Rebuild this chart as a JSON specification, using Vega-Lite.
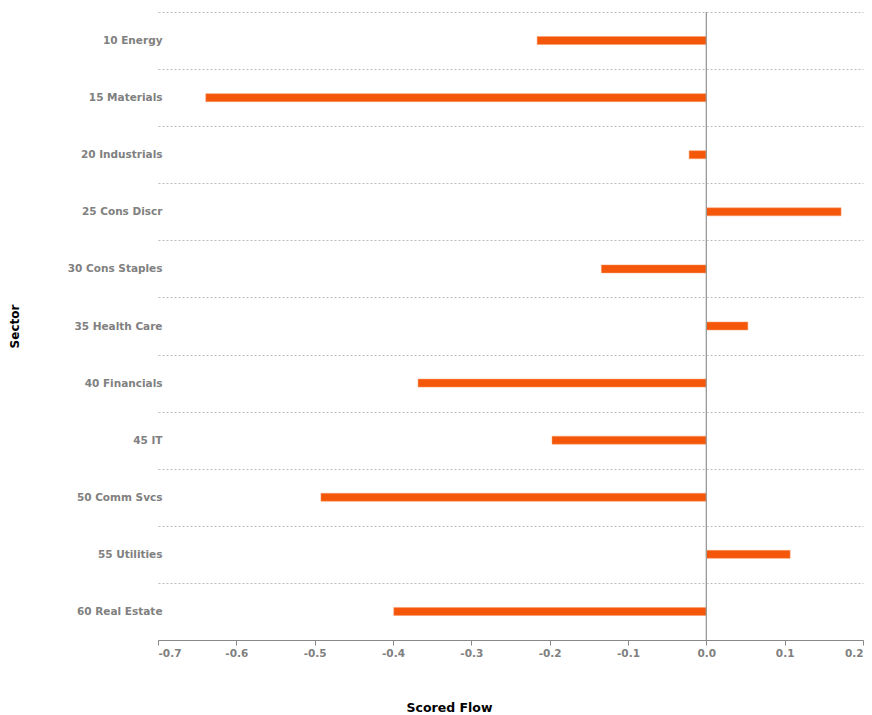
{
  "$schema": "https://vega.github.io/schema/vega-lite/v6.json",
  "autosize": "none",
  "width": 705,
  "height": 628,
  "padding": {"left": 158, "top": 12, "right": 9, "bottom": 75},
  "background": "white",
  "config": {
    "font": "DejaVu Sans",
    "view": {"stroke": null}
  },
  "data": {
    "values": [
      {"Sector": "10 Energy", "Scored Flow": -0.216},
      {"Sector": "15 Materials", "Scored Flow": -0.639},
      {"Sector": "20 Industrials", "Scored Flow": -0.022},
      {"Sector": "25 Cons Discr", "Scored Flow": 0.172},
      {"Sector": "30 Cons Staples", "Scored Flow": -0.134},
      {"Sector": "35 Health Care", "Scored Flow": 0.053},
      {"Sector": "40 Financials", "Scored Flow": -0.368},
      {"Sector": "45 IT", "Scored Flow": -0.197},
      {"Sector": "50 Comm Svcs", "Scored Flow": -0.492},
      {"Sector": "55 Utilities", "Scored Flow": 0.107},
      {"Sector": "60 Real Estate", "Scored Flow": -0.399}
    ]
  },
  "layer": [
    {
      "mark": {"type": "bar", "size": 8, "color": "#F5570A", "stroke": "#F89A6A", "strokeWidth": 0.5},
      "encoding": {
        "y": {
          "field": "Sector", "type": "nominal", "sort": null, "title": "Sector",
          "scale": {"paddingInner": 0, "paddingOuter": 0},
          "axis": {
            "tickBand": "extent", "ticks": false, "domain": false,
            "grid": true, "gridDash": [2, 2], "gridColor": "#bbbbbb", "gridWidth": 1,
            "labelColor": "#808080", "labelFont": "DejaVu Sans", "labelFontWeight": "bold", "labelFontSize": 10.5,
            "labelPadding": -4,
            "titleColor": "#000000", "titleFontSize": 12, "titleFontWeight": "bold",
            "titleX": -144, "titleY": 314, "titleAngle": -90, "titleAlign": "center", "titleBaseline": "middle"
          }
        },
        "x": {
          "field": "Scored Flow", "type": "quantitative", "title": "Scored Flow",
          "scale": {"domain": [-0.7, 0.2], "nice": false, "zero": false},
          "axis": {
            "values": [-0.7, -0.6, -0.5, -0.4, -0.3, -0.2, -0.1, 0, 0.1, 0.2],
            "format": ".1f", "labelExpr": "replace(datum.label, '\u2212', '-')", "grid": false,
            "domainColor": "#888888", "tickColor": "#888888", "tickSize": 5, "domainWidth": 1.2,
            "labelColor": "#808080", "labelFontWeight": "bold", "labelFontSize": 10.5, "labelPadding": 3,
            "titleColor": "#000000", "titleFontSize": 12.5, "titleFontWeight": "bold",
            "titleX": 291, "titleY": 67, "titleAlign": "center", "titleBaseline": "middle"
          }
        }
      }
    },
    {
      "data": {"values": [{"zero": 0}]},
      "mark": {"type": "rule", "color": "#999999", "strokeWidth": 1.3},
      "encoding": {
        "x": {"field": "zero", "type": "quantitative"}
      }
    }
  ]
}
